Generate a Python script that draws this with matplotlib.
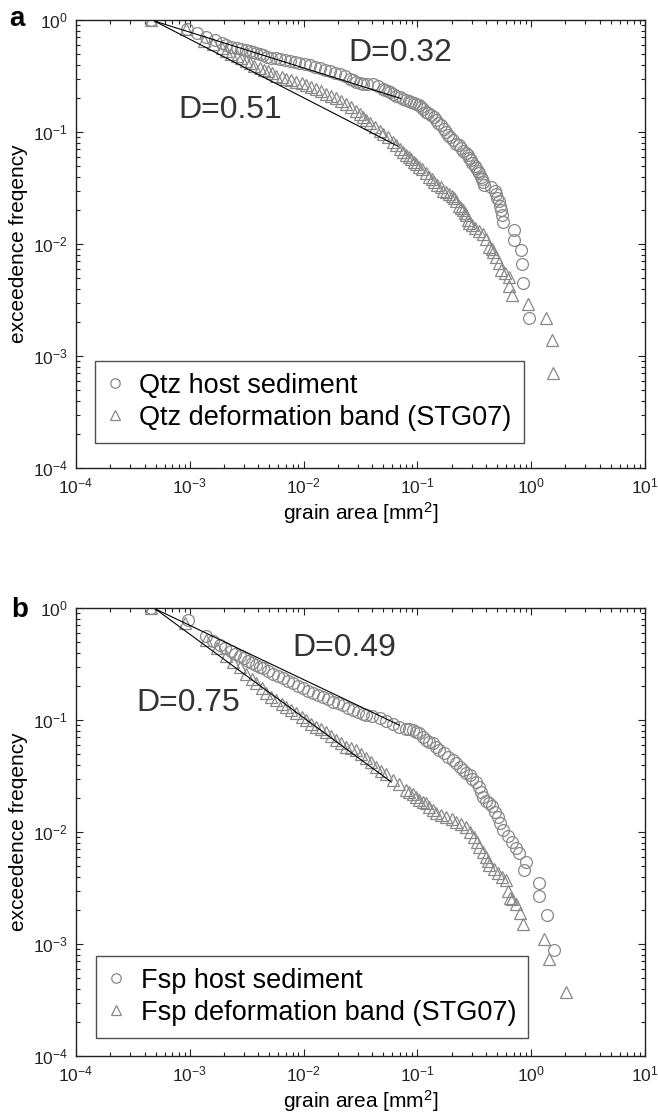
import numpy as np
import matplotlib
matplotlib.use("Agg")
import matplotlib.pyplot as plt
from matplotlib.ticker import LogLocator, NullFormatter

plt.rcParams['font.family'] = ['Liberation Sans', 'DejaVu Sans']
plt.rcParams['mathtext.fontset'] = 'custom'
plt.rcParams['mathtext.rm'] = 'Liberation Sans'
plt.rcParams['mathtext.it'] = 'Liberation Sans:italic'
plt.rcParams['mathtext.bf'] = 'Liberation Sans:bold'

# (grain area [mm2], exceedence frequency)

# ---- panel a : quartz ----
qtz_host = [(4.6e-4, 1.0), (9.4e-4, 0.83), (1.15e-3, 0.76), (1.40e-3, 0.70),
            (1.65e-3, 0.66), (1.90e-3, 0.63), (2.1e-3, 0.60), (2.32e-3, 0.58),
            (2.6e-3, 0.565), (2.84e-3, 0.55), (3.1e-3, 0.54), (3.36e-3, 0.53),
            (3.6e-3, 0.52), (3.85e-3, 0.51), (4.1e-3, 0.50), (4.37e-3, 0.487),
            (4.8e-3, 0.47), (5.2e-3, 0.46), (5.7e-3, 0.455), (6.2e-3, 0.45),
            (6.9e-3, 0.44), (7.6e-3, 0.43), (8.4e-3, 0.42), (9.2e-3, 0.41),
            (0.0102, 0.405), (0.0113, 0.40), (0.0125, 0.385), (0.0138, 0.37),
            (0.0153, 0.36), (0.0170, 0.35), (0.0188, 0.34), (0.0207, 0.33),
            (0.0230, 0.315), (0.0254, 0.30), (0.0270, 0.29), (0.0288, 0.28),
            (0.031, 0.275), (0.033, 0.27), (0.036, 0.27), (0.0405, 0.268),
            (0.045, 0.26), (0.0497, 0.245), (0.052, 0.24), (0.055, 0.235),
            (0.058, 0.228), (0.0607, 0.22), (0.065, 0.212), (0.070, 0.205),
            (0.075, 0.198), (0.0794, 0.192), (0.084, 0.188), (0.088, 0.185),
            (0.093, 0.182), (0.098, 0.178), (0.103, 0.174), (0.108, 0.168),
            (0.113, 0.16), (0.119, 0.152), (0.125, 0.148), (0.132, 0.142),
            (0.139, 0.135), (0.146, 0.128), (0.153, 0.12), (0.160, 0.115),
            (0.170, 0.107), (0.179, 0.10), (0.187, 0.095), (0.195, 0.09),
            (0.207, 0.085), (0.219, 0.079), (0.230, 0.076), (0.240, 0.072),
            (0.253, 0.068), (0.267, 0.065), (0.276, 0.062), (0.285, 0.059),
            (0.295, 0.056), (0.305, 0.053), (0.318, 0.05), (0.330, 0.048),
            (0.340, 0.045), (0.350, 0.043), (0.360, 0.040), (0.370, 0.038),
            (0.380, 0.036), (0.387, 0.034), (0.44, 0.032), (0.48, 0.030),
            (0.49, 0.028), (0.50, 0.026), (0.52, 0.024), (0.53, 0.022),
            (0.54, 0.020), (0.55, 0.018), (0.56, 0.0158), (0.71, 0.0133),
            (0.71, 0.0109), (0.81, 0.0088), (0.83, 0.0067), (0.85, 0.0045),
            (0.96, 0.0022)]

qtz_band = [(4.6e-4, 1.0), (9.2e-4, 0.83), (1.33e-3, 0.65), (1.6e-3, 0.61),
            (1.90e-3, 0.56), (2.1e-3, 0.53), (2.32e-3, 0.50), (2.6e-3, 0.475),
            (2.84e-3, 0.455), (3.1e-3, 0.43), (3.36e-3, 0.41), (3.7e-3, 0.39),
            (4.11e-3, 0.37), (4.5e-3, 0.36), (4.86e-3, 0.35), (5.3e-3, 0.335),
            (5.75e-3, 0.32), (6.4e-3, 0.31), (7.05e-3, 0.30), (7.8e-3, 0.29),
            (8.63e-3, 0.28), (9.6e-3, 0.272), (0.0106, 0.263), (0.0117, 0.252),
            (0.0129, 0.242), (0.0143, 0.231), (0.0158, 0.22), (0.0175, 0.21),
            (0.0194, 0.20), (0.0215, 0.19), (0.0237, 0.18), (0.026, 0.168),
            (0.0288, 0.155), (0.031, 0.145), (0.0335, 0.135), (0.0355, 0.128),
            (0.038, 0.12), (0.042, 0.112), (0.0465, 0.103), (0.050, 0.097),
            (0.055, 0.09), (0.0607, 0.082), (0.065, 0.076), (0.070, 0.07),
            (0.074, 0.066), (0.079, 0.063), (0.084, 0.060), (0.088, 0.057),
            (0.093, 0.054), (0.098, 0.052), (0.104, 0.049), (0.110, 0.047),
            (0.118, 0.043), (0.127, 0.040), (0.134, 0.038), (0.140, 0.036),
            (0.150, 0.034), (0.160, 0.032), (0.167, 0.030), (0.178, 0.029),
            (0.190, 0.028), (0.200, 0.027), (0.211, 0.026), (0.220, 0.024),
            (0.230, 0.022), (0.240, 0.021), (0.251, 0.020), (0.260, 0.019),
            (0.270, 0.018), (0.278, 0.0165), (0.286, 0.0153), (0.300, 0.0148),
            (0.320, 0.014), (0.345, 0.013), (0.374, 0.0124), (0.40, 0.011),
            (0.428, 0.0095), (0.45, 0.009), (0.46, 0.0085), (0.49, 0.0077),
            (0.52, 0.0068), (0.542, 0.0059), (0.59, 0.0055), (0.64, 0.0051),
            (0.64, 0.0042), (0.685, 0.0035), (0.93, 0.0029), (1.35, 0.0022),
            (1.51, 0.0014), (1.55, 0.00071)]

qtz_fit_host = [(4.9e-4, 0.98), (0.071, 0.20)]
qtz_fit_band = [(4.9e-4, 0.98), (0.067, 0.075)]

# ---- panel b : feldspar ----
fsp_host = [(4.6e-4, 1.0), (9.7e-4, 0.78), (1.40e-3, 0.56), (1.6e-3, 0.51),
            (1.83e-3, 0.47), (2.05e-3, 0.44), (2.32e-3, 0.41), (2.5e-3, 0.39),
            (2.75e-3, 0.37), (3.0e-3, 0.355), (3.24e-3, 0.34), (3.5e-3, 0.325),
            (3.85e-3, 0.31), (4.1e-3, 0.30), (4.4e-3, 0.29), (4.9e-3, 0.275),
            (5.4e-3, 0.26), (6.0e-3, 0.248), (6.6e-3, 0.236), (7.3e-3, 0.224),
            (8.1e-3, 0.213), (9.0e-3, 0.202), (9.9e-3, 0.192), (0.011, 0.183),
            (0.0121, 0.174), (0.0134, 0.168), (0.0148, 0.162), (0.0163, 0.154),
            (0.0181, 0.146), (0.020, 0.141), (0.0221, 0.136), (0.0245, 0.129),
            (0.0271, 0.123), (0.030, 0.118), (0.033, 0.114), (0.0355, 0.111),
            (0.040, 0.108), (0.0465, 0.104), (0.053, 0.098), (0.0607, 0.093),
            (0.0695, 0.087), (0.0794, 0.084), (0.085, 0.083), (0.091, 0.081),
            (0.097, 0.079), (0.104, 0.076), (0.111, 0.071), (0.119, 0.066),
            (0.127, 0.064), (0.136, 0.062), (0.146, 0.058), (0.156, 0.054),
            (0.17, 0.051), (0.185, 0.047), (0.204, 0.044), (0.22, 0.041),
            (0.236, 0.038), (0.251, 0.036), (0.27, 0.034), (0.29, 0.032),
            (0.305, 0.030), (0.325, 0.028), (0.350, 0.025), (0.362, 0.023),
            (0.374, 0.0207), (0.40, 0.019), (0.43, 0.018), (0.457, 0.017),
            (0.48, 0.015), (0.506, 0.0137), (0.53, 0.012), (0.562, 0.0105),
            (0.62, 0.0093), (0.685, 0.0082), (0.74, 0.0072), (0.785, 0.0065),
            (0.87, 0.0046), (0.90, 0.0054), (1.17, 0.0035), (1.17, 0.0027),
            (1.37, 0.0018), (1.58, 0.00088)]

fsp_band = [(4.6e-4, 1.0), (9.0e-4, 0.73), (1.40e-3, 0.52), (1.75e-3, 0.44),
            (2.10e-3, 0.37), (2.4e-3, 0.33), (2.75e-3, 0.30), (3.14e-3, 0.26),
            (3.5e-3, 0.235), (3.85e-3, 0.213), (4.3e-3, 0.193), (4.71e-3, 0.174),
            (5.2e-3, 0.162), (5.75e-3, 0.151), (6.4e-3, 0.14), (7.05e-3, 0.131),
            (7.8e-3, 0.122), (8.63e-3, 0.115), (9.6e-3, 0.107), (0.0106, 0.10),
            (0.0117, 0.093), (0.0129, 0.087), (0.0143, 0.083), (0.0158, 0.079),
            (0.0175, 0.072), (0.0194, 0.066), (0.0215, 0.062), (0.0237, 0.058),
            (0.026, 0.056), (0.0288, 0.054), (0.032, 0.050), (0.0355, 0.046),
            (0.039, 0.042), (0.0435, 0.038), (0.048, 0.035), (0.0531, 0.033),
            (0.0607, 0.029), (0.0695, 0.027), (0.079, 0.0237), (0.085, 0.023),
            (0.091, 0.022), (0.097, 0.0205), (0.104, 0.0193), (0.111, 0.0187),
            (0.119, 0.018), (0.127, 0.0168), (0.136, 0.0158), (0.146, 0.0148),
            (0.16, 0.0143), (0.179, 0.0137), (0.20, 0.013), (0.219, 0.0124),
            (0.24, 0.0118), (0.267, 0.0112), (0.29, 0.010), (0.316, 0.0091),
            (0.333, 0.0082), (0.350, 0.0074), (0.375, 0.0067), (0.400, 0.0060),
            (0.415, 0.0055), (0.430, 0.0051), (0.47, 0.0047), (0.506, 0.0043),
            (0.55, 0.0040), (0.600, 0.0037), (0.620, 0.0030), (0.650, 0.0026),
            (0.685, 0.0025), (0.740, 0.0023), (0.800, 0.0019), (0.840, 0.0015),
            (1.30, 0.0011), (1.42, 0.00073), (2.01, 0.00037)]

fsp_fit_host = [(5.0e-4, 0.98), (0.0695, 0.090)]
fsp_fit_band = [(5.0e-4, 0.98), (0.059, 0.028)]

GRAY = '#888888'


def xy(points):
    return [p[0] for p in points], [p[1] for p in points]


def draw_panel(ax, host, band, fits, d_labels, names, leg_anchor):
    hx, hy = xy(host)
    bx, by = xy(band)
    ax.plot(hx, hy, linestyle='none', marker='o', ms=8.5, mfc='none',
            mec=GRAY, mew=0.9, label=names[0])
    ax.plot(bx, by, linestyle='none', marker='^', ms=8.5, mfc='none',
            mec=GRAY, mew=0.9, label=names[1])
    for fit in fits:
        fx, fy = xy(fit)
        ax.plot(fx, fy, color='black', lw=0.8)
    for (tx, ty, s) in d_labels:
        ax.text(tx, ty, s, fontsize=23, color='#333333', ha='left', va='center')

    ax.set_xscale('log')
    ax.set_yscale('log')
    ax.set_xlim(1e-4, 10)
    ax.set_ylim(1e-4, 1)
    ax.xaxis.set_major_locator(LogLocator(base=10, numticks=10))
    ax.yaxis.set_major_locator(LogLocator(base=10, numticks=10))
    ax.xaxis.set_minor_locator(LogLocator(base=10, subs=np.arange(2, 10), numticks=10))
    ax.yaxis.set_minor_locator(LogLocator(base=10, subs=np.arange(2, 10), numticks=10))
    ax.yaxis.set_minor_formatter(NullFormatter())
    ax.xaxis.set_minor_formatter(NullFormatter())
    ax.tick_params(which='both', direction='in', top=True, right=True,
                   labelsize=12.5, colors='#222222', width=0.8)
    ax.tick_params(which='major', length=5, pad=6)
    ax.tick_params(which='minor', length=3)
    for sp in ax.spines.values():
        sp.set_linewidth(1.0)
        sp.set_color('#222222')

    ax.set_xlabel('grain area [mm$^2$]', fontsize=15, labelpad=3)
    ax.set_ylabel('exceedence freqency', fontsize=15, labelpad=3)

    leg = ax.legend(loc='lower left', bbox_to_anchor=leg_anchor, fontsize=19.5,
                    frameon=True, fancybox=False, handlelength=0.6,
                    handletextpad=0.6, borderpad=0.45, labelspacing=0.22,
                    borderaxespad=0, markerscale=0.8)
    leg.get_frame().set_edgecolor('#222222')
    leg.get_frame().set_linewidth(1.0)


fig = plt.figure(figsize=(6.58, 11.17), dpi=100)
ax_a = fig.add_axes([0.1155, 0.581, 0.8647, 0.401])
ax_b = fig.add_axes([0.1155, 0.0546, 0.8647, 0.401])

draw_panel(ax_a, qtz_host, qtz_band, [qtz_fit_host, qtz_fit_band],
           [(0.025, 0.51, 'D=0.32'), (7.9e-4, 0.158, 'D=0.51')],
           ['Qtz host sediment', 'Qtz deformation band (STG07)'],
           (0.033, 0.056))

draw_panel(ax_b, fsp_host, fsp_band, [fsp_fit_host, fsp_fit_band],
           [(8.0e-3, 0.44, 'D=0.49'), (3.4e-4, 0.142, 'D=0.75')],
           ['Fsp host sediment', 'Fsp deformation band (STG07)'],
           (0.035, 0.040))

fig.text(17 / 658, 1 - 19 / 1117, 'a', fontsize=20, fontweight='bold',
         ha='center', va='center')
fig.text(20 / 658, 1 - 610 / 1117, 'b', fontsize=20, fontweight='bold',
         ha='center', va='center')

fig.savefig('out.png', dpi=100)
